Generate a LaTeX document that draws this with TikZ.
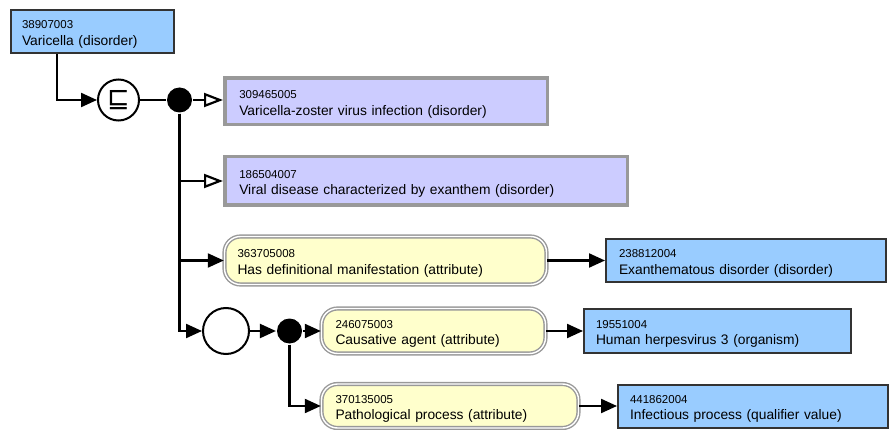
\documentclass[tikz,border=0pt]{standalone}
\usepackage{fontspec}
\setmainfont{Liberation Sans}
\newfontfamily\symfnt{DejaVu Sans}
\usetikzlibrary{arrows.meta}
\definecolor{cblue}{HTML}{99CCFF}
\definecolor{cpurple}{HTML}{CCCCFF}
\definecolor{cyellow}{HTML}{FFFFCC}
\definecolor{cdark}{HTML}{333333}
\definecolor{cgray}{HTML}{999999}
\newcommand\cid[1]{\rule{0pt}{14pt}{\fontsize{11.5}{12}\selectfont #1}}
\begin{document}
\begin{tikzpicture}[x=1pt,y=-1pt, line width=2.2pt,
  lbl/.style={align=left, inner ysep=0pt, font=\fontsize{13.8}{16.5}\selectfont},
  concept/.style={lbl, draw=cdark, line width=2pt, fill=cblue},
  prim/.style={lbl, draw=cgray, line width=3.5pt, fill=cpurple},
  attr/.style={lbl, draw=cgray, double=white, line width=1.4pt, double distance=1.4pt, fill=cyellow, rounded corners=16pt},
  conn/.style={circle, draw=black, fill=white, line width=2pt, inner sep=0pt},
  jdot/.style={circle, fill=black, inner sep=0pt, minimum size=25pt},
  arr/.style={-{Triangle[length=16pt,width=14pt]}},
  oarr/.style={-{Triangle[open,length=19pt,width=14pt]}}
]
\useasboundingbox (0,0) rectangle (893,430);

\node[concept, minimum height=43pt, inner xsep=11pt, text width=141pt] (n0) at (92.5,31.5) {\cid{38907003}\\Varicella (disorder)};

\node[conn, minimum size=41pt, font=\symfnt\fontsize{27}{27}\selectfont] (sq) at (118.5,100) {⊑};
\node[jdot] (d1) at (179.5,100) {};

\node[prim, minimum height=46.5pt, inner xsep=14.5pt, text width=293.5pt] (b1) at (386,101.5) {\cid{309465005}\\Varicella-zoster virus infection (disorder)};
\node[prim, minimum height=48.5pt, inner xsep=14.5pt, text width=373.5pt] (b2) at (426,181) {\cid{186504007}\\Viral disease characterized by exanthem (disorder)};

\node[attr, minimum height=48pt, inner xsep=13pt, text width=296pt] (y1) at (385.5,260.5) {\cid{363705008}\\Has definitional manifestation (attribute)};
\node[concept, minimum height=43pt, inner xsep=13pt, text width=254pt] (c1) at (746,260.5) {\cid{238812004}\\Exanthematous disorder (disorder)};

\node[conn, minimum size=46pt] (ec) at (226,331) {};
\node[jdot] (d2) at (289.5,331) {};

\node[attr, minimum height=45pt, inner xsep=14pt, text width=196pt] (y2) at (433.5,331) {\cid{246075003}\\Causative agent (attribute)};
\node[concept, minimum height=44pt, inner xsep=12pt, text width=243pt] (c2) at (717.5,331) {\cid{19551004}\\Human herpesvirus 3 (organism)};

\node[attr, minimum height=44pt, inner xsep=14pt, text width=229pt] (y3) at (450,406) {\cid{370135005}\\Pathological process (attribute)};
\node[concept, minimum height=43pt, inner xsep=12pt, text width=246pt] (c3) at (753,406) {\cid{441862004}\\Infectious process (qualifier value)};

\draw[arr] ([xshift=47pt]n0.south west) |- (sq);
\draw (sq) -- (d1);
\draw[oarr] (d1) -- (d1 -| b1.west);
\draw[oarr] (d1) |- (b2);
\draw[arr] (d1) |- (y1);
\draw[arr] (d1) |- (ec);
\draw[arr] (ec) -- (d2);
\draw[arr] (d2) -- (y2);
\draw[arr] (d2) |- (y3);
\draw[arr] (y1) -- (c1);
\draw[arr] (y2) -- (c2);
\draw[arr] (y3) -- (c3);
\end{tikzpicture}
\end{document}
